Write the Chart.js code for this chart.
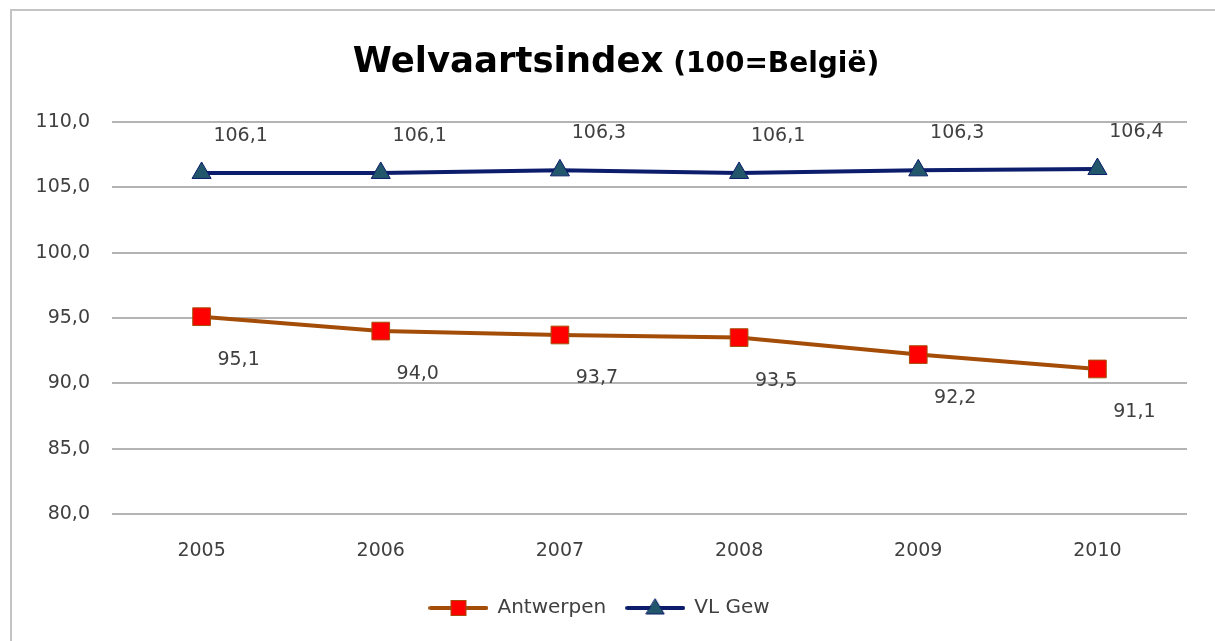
<!DOCTYPE html>
<html>
<head>
<meta charset="utf-8">
<script src="https://cdn.jsdelivr.net/npm/chart.js@4.4.1/dist/chart.umd.min.js"></script>
<style>
  html, body { margin: 0; padding: 0; background: #ffffff; overflow: hidden; }
  #wrap { position: relative; width: 1215px; height: 641px; }
</style>
</head>
<body>
<div id="wrap"><canvas id="c" width="1215" height="641"></canvas></div>
<script>
// ---- data ----
const years = ['2005', '2006', '2007', '2008', '2009', '2010'];
const antwerpen = [95.1, 94.0, 93.7, 93.5, 92.2, 91.1];
const vlGew = [106.1, 106.1, 106.3, 106.1, 106.3, 106.4];
const seriesNames = ['Antwerpen', 'VL Gew'];
const titleMain = 'Welvaartsindex';
const titleSub = ' (100=België)';
const yTicks = [80, 85, 90, 95, 100, 105, 110];

const FONT = '"DejaVu Sans", sans-serif';
const TXT = '#404040';
const BROWN = '#A44D08';
const NAVY = '#0C1D6B';
const TEAL = '#22566A';

const fmt = v => v.toFixed(1).replace('.', ',');

function legendIcon(kind) {
  const c = document.createElement('canvas');
  c.width = 60; c.height = 20;
  const g = c.getContext('2d');
  g.lineWidth = 4;
  g.lineCap = 'round';
  g.strokeStyle = kind === 'sq' ? BROWN : NAVY;
  g.beginPath(); g.moveTo(2, 10); g.lineTo(58, 10); g.stroke();
  if (kind === 'sq') {
    g.fillStyle = '#FF0000'; g.strokeStyle = BROWN; g.lineWidth = 1;
    g.fillRect(22, 2, 16, 16); g.strokeRect(22.5, 2.5, 15, 15);
  } else {
    g.fillStyle = TEAL; g.strokeStyle = NAVY; g.lineWidth = 1;
    g.beginPath(); g.moveTo(30, 1); g.lineTo(39, 16); g.lineTo(21, 16); g.closePath();
    g.fill(); g.stroke();
  }
  return c;
}
const icons = [legendIcon('sq'), legendIcon('tri')];

const framePlugin = {
  id: 'frame',
  beforeDraw(chart) {
    const ctx = chart.ctx;
    ctx.save();
    ctx.fillStyle = '#ffffff';
    ctx.fillRect(0, 0, chart.width, chart.height);
    ctx.strokeStyle = '#C4C4C4';
    ctx.lineWidth = 2;
    ctx.beginPath();
    ctx.moveTo(11, chart.height);
    ctx.lineTo(11, 10);
    ctx.lineTo(chart.width, 10);
    ctx.stroke();
    ctx.restore();
  },
  afterDraw(chart) {
    const ctx = chart.ctx;
    ctx.save();
    ctx.fillStyle = '#000000';
    ctx.textBaseline = 'alphabetic';
    ctx.font = 'bold 35.5px ' + FONT;
    const w1 = ctx.measureText(titleMain).width;
    ctx.font = 'bold 28px ' + FONT;
    const w2 = ctx.measureText(titleSub).width;
    const x0 = 616 - (w1 + w2) / 2;
    ctx.font = 'bold 35.5px ' + FONT;
    ctx.fillText(titleMain, x0, 72);
    ctx.font = 'bold 28px ' + FONT;
    ctx.fillText(titleSub, x0 + w1, 72);
    ctx.restore();
  }
};

const labelPlugin = {
  id: 'pointLabels',
  afterDatasetsDraw(chart) {
    const ctx = chart.ctx;
    ctx.save();
    ctx.font = '19px ' + FONT;
    ctx.fillStyle = TXT;
    ctx.textAlign = 'center';
    ctx.textBaseline = 'middle';
    chart.data.datasets.forEach((ds, i) => {
      const meta = chart.getDatasetMeta(i);
      meta.data.forEach((pt, j) => {
        const dx = i === 0 ? 37 : 39;
        const dy = i === 0 ? 43 : -37;
        ctx.fillText(fmt(ds.data[j]), pt.x + dx, pt.y + dy);
      });
    });
    ctx.restore();
  }
};

new Chart(document.getElementById('c'), {
  type: 'line',
  data: {
    labels: years,
    datasets: [
      {
        label: seriesNames[0],
        data: antwerpen,
        borderColor: BROWN,
        borderWidth: 4,
        pointStyle: 'rect',
        pointRadius: 12.5,
        pointHoverRadius: 12.5,
        pointBackgroundColor: '#FF0000',
        pointBorderColor: BROWN,
        pointBorderWidth: 1,
        tension: 0
      },
      {
        label: seriesNames[1],
        data: vlGew,
        borderColor: NAVY,
        borderWidth: 4,
        pointStyle: 'triangle',
        pointRadius: 11,
        pointHoverRadius: 11,
        pointBackgroundColor: TEAL,
        pointBorderColor: NAVY,
        pointBorderWidth: 1,
        tension: 0
      }
    ]
  },
  options: {
    responsive: false,
    animation: false,
    events: [],
    layout: { padding: { left: 12, right: 28, top: 122, bottom: 13 } },
    plugins: {
      title: { display: false },
      tooltip: { enabled: false },
      legend: {
        position: 'bottom',
        labels: {
          usePointStyle: true,
          pointStyleWidth: 58,
          boxHeight: 20,
          padding: 20,
          color: TXT,
          font: { family: FONT, size: 20 },
          generateLabels(chart) {
            return chart.data.datasets.map((ds, i) => ({
              text: ds.label,
              pointStyle: icons[i],
              fillStyle: 'transparent',
              strokeStyle: 'transparent',
              lineWidth: 0,
              fontColor: TXT,
              datasetIndex: i,
              hidden: false
            }));
          }
        }
      }
    },
    scales: {
      x: {
        offset: true,
        grid: { display: false, drawTicks: false },
        border: { display: false },
        ticks: { color: TXT, font: { family: FONT, size: 19 }, padding: 26 },
        afterFit(scale) { scale.height = 64; }
      },
      y: {
        min: 80,
        max: 110,
        afterBuildTicks(scale) { scale.ticks = yTicks.map(v => ({ value: v })); },
        grid: { color: '#B4B4B4', lineWidth: 2, drawTicks: false },
        border: { display: false },
        ticks: {
          color: TXT,
          font: { family: FONT, size: 19 },
          padding: 22,
          callback: v => fmt(v)
        },
        afterFit(scale) { scale.width = 100; }
      }
    }
  },
  plugins: [framePlugin, labelPlugin]
});
</script>
</body>
</html>
